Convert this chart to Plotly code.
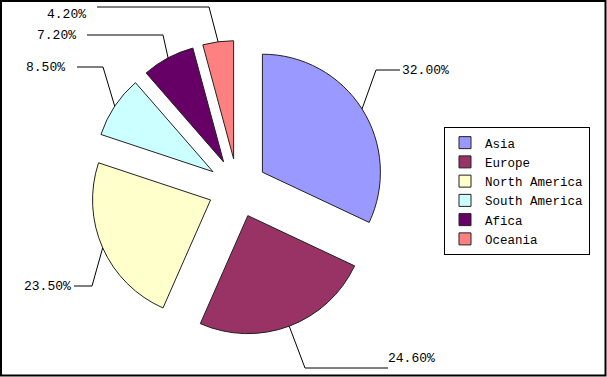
import math
import plotly.graph_objects as go

W, H = 607, 377

# ---- data ----
regions = ["Asia", "Europe", "North America", "South America", "Afica", "Oceania"]
shares = [32.0, 24.6, 23.5, 8.5, 7.2, 4.2]
label_texts = [f"{v:.2f}%" for v in shares]

# ---- style / layout ----
colors = ["#9999FF", "#993366", "#FFFFCC", "#CCFFFF", "#660066", "#FF8080"]
PULL = 0.25
FONT = "Liberation Mono"
dom_px_x = (90, 385)        # pie domain, pixels (left, right)
dom_px_y = (40.5, 335.5)    # pie domain, pixels (top, bottom)
# leader-line elbow, end of horizontal leg, label anchor (pixels)
elbow_px = [(376, 70), (305, 368), (92, 286), (103, 67), (163, 35), (209, 7)]
leg_end_px = [(400, 70), (388, 368), (74, 286), (77, 67), (87, 35), (97, 7)]
text_px = [(400, 70, "left"), (386, 358, "left"), (73, 286, "right"),
           (67, 67, "right"), (78, 36, "right"), (88, 14, "right")]


def px(x, y):
    return x / W, 1 - y / H


fig = go.Figure(go.Pie(
    labels=regions,
    values=shares,
    sort=False,
    direction="clockwise",
    rotation=0,
    pull=[PULL] * len(shares),
    marker=dict(colors=colors, line=dict(color="#222222", width=1)),
    textinfo="none",
    hoverinfo="none",
    domain=dict(x=[dom_px_x[0] / W, dom_px_x[1] / W],
                y=[1 - dom_px_y[1] / H, 1 - dom_px_y[0] / H]),
))

# leader lines computed from the slice angles
cx = (dom_px_x[0] + dom_px_x[1]) / 2
cy = (dom_px_y[0] + dom_px_y[1]) / 2
R = min(dom_px_x[1] - dom_px_x[0], dom_px_y[1] - dom_px_y[0]) / 2
total = sum(shares)
cum = 0.0
shapes = []
annotations = []
for i, v in enumerate(shares):
    mid = (cum + v / 2) / total * 2 * math.pi
    cum += v
    ax, ay = cx + R * math.sin(mid), cy - R * math.cos(mid)
    ex, ey = elbow_px[i]
    lx, ly = leg_end_px[i]
    x0, y0 = px(ax, ay)
    x1, y1 = px(ex, ey)
    x2, y2 = px(lx, ly)
    shapes.append(dict(type="path", xref="paper", yref="paper",
                       path=f"M{x0},{y0} L{x1},{y1} L{x2},{y2}",
                       line=dict(color="black", width=1)))
    tx, ty, anc = text_px[i]
    tx_, ty_ = px(tx, ty)
    annotations.append(dict(x=tx_, y=ty_, xref="paper", yref="paper",
                            text=label_texts[i], showarrow=False,
                            xanchor=anc, yanchor="middle",
                            font=dict(family=FONT, size=13, color="black")))

# outer border of chart
shapes.append(dict(type="rect", xref="paper", yref="paper",
                   x0=1 / W, x1=1 - 1.5 / W, y0=1.5 / H, y1=1 - 1 / H,
                   line=dict(color="black", width=2)))

fig.update_layout(
    width=W, height=H,
    margin=dict(l=0, r=0, t=0, b=0),
    paper_bgcolor="white",
    plot_bgcolor="white",
    showlegend=True,
    legend=dict(
        x=444 / W, y=1 - 127 / H, xanchor="left", yanchor="top",
        bordercolor="black", borderwidth=1, bgcolor="white",
        font=dict(family=FONT, size=12.5, color="black"),
        itemclick=False, itemdoubleclick=False,
    ),
    shapes=shapes,
    annotations=annotations,
)

fig.write_html("out.html")
